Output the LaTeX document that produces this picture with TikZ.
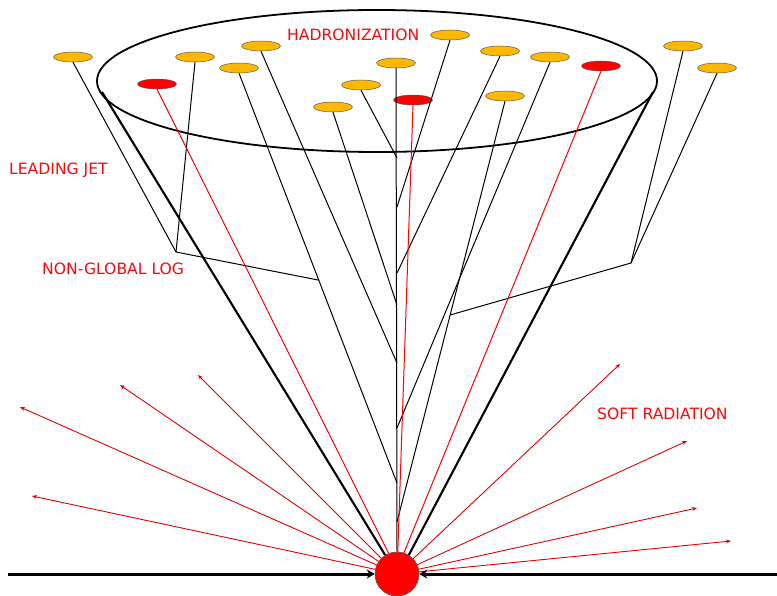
\documentclass[tikz,border=0pt]{standalone}
\usepackage{fontspec}
\setmainfont{DejaVu Sans}
\usetikzlibrary{shapes.geometric,arrows.meta,calc}
\definecolor{hadorange}{RGB}{255,184,0}
\definecolor{lblred}{RGB}{245,10,10}
\begin{document}
\begin{tikzpicture}[x=1pt,y=-1pt,
  hadron/.style={ellipse, draw=black!65, line width=0.5pt, fill=hadorange,
                 minimum width=39pt, minimum height=10pt, inner sep=0pt},
  rhadron/.style={hadron, fill=red},
  tline/.style={line width=1pt, black},
  jetline/.style={line width=2.1pt, black},
  redline/.style={line width=1pt, red},
  soft/.style={line width=0.9pt, red!90!black, -{Stealth[length=5pt,width=4pt]}},
  beam/.style={line width=3pt, black, -{Stealth[length=8pt,width=9pt]}},
  lbl/.style={text=lblred, font=\fontsize{15.6}{18}\selectfont, anchor=base west, inner sep=0pt}
]
\useasboundingbox (0,0) rectangle (777,596);

% cone (hadronization region)
\node[ellipse, draw, line width=1.8pt, minimum width=560pt, minimum height=142pt, inner sep=0pt] (cone) at (377,81) {};

% interaction blob
\node[circle, fill=red, draw=black!60, line width=0.5pt, minimum size=44pt, inner sep=0pt] (blob) at (397,574) {};

% hadrons
\node[hadron]  (h1)  at (73,57)  {};
\node[hadron]  (h2)  at (195,57) {};
\node[hadron]  (h3)  at (261,46) {};
\node[hadron]  (h4)  at (239,68) {};
\node[rhadron] (h5)  at (157,84) {};
\node[hadron]  (h6)  at (333,107) {};
\node[hadron]  (h7)  at (361,85) {};
\node[hadron]  (h8)  at (396,63) {};
\node[rhadron] (h9)  at (413,100) {};
\node[hadron]  (h10) at (450,35) {};
\node[hadron]  (h11) at (500,51) {};
\node[hadron]  (h12) at (550,57) {};
\node[hadron]  (h13) at (505,96) {};
\node[rhadron] (h14) at (601,66) {};
\node[hadron]  (h15) at (683,46) {};
\node[hadron]  (h16) at (717,68) {};

% vertices on the leading parton line
\coordinate (v1) at (397,158);
\coordinate (v2) at (397,207);
\coordinate (v3) at (397,273);
\coordinate (v4) at (397,305);
\coordinate (v5) at (397,363);
\coordinate (v6) at (397,428);
\coordinate (v7) at (397,483);
\coordinate (v8) at (397,522);
\coordinate (A) at (176,252);
\coordinate (D) at (631,263);
\coordinate (B) at ($(h4.south)!0.505!(v7)$);
\coordinate (C) at ($(h13.south)!0.508!(v8)$);
\coordinate (jl) at (102,92);
\coordinate (jr) at (653,92);

% shower lines
\draw[tline] (h8.south) -- (blob.north);
\draw[tline] (h7.south) -- (v1);
\draw[tline] (h10.south) -- (v2);
\draw[tline] (h11.south) -- (v3);
\draw[tline] (h6.south) -- (v4);
\draw[tline] (h3.south) -- (v5);
\draw[tline] (h12.south) -- (v6);
\draw[tline] (h4.south) -- (v7);
\draw[tline] (h13.south) -- (v8);
\draw[tline] (h1.south) -- (A) -- (B);
\draw[tline] (h2.south) -- (A);
\draw[tline] (h15.south) -- (D) -- (C);
\draw[tline] (h16.south) -- (D);

% red leading hadron lines
\draw[redline] (h5.south) -- (blob.112);
\draw[redline] (h9.south) -- (blob.88);
\draw[redline] (h14.south) -- (blob.72);

% jet boundaries
\draw[jetline] (jl) -- (blob.122);
\draw[jetline] (jr) -- (blob.58);

% soft radiation
\coordinate (s1) at (20,407);
\coordinate (s2) at (120,385);
\coordinate (s3) at (198,375);
\coordinate (s4) at (32,496);
\coordinate (s5) at (620,364);
\coordinate (s6) at (687,441);
\coordinate (s7) at (697,508);
\coordinate (s8) at (731,541);
\foreach \s in {s1,s2,s3,s4,s5,s6,s7,s8} \draw[soft] (blob) -- (\s);

% beams
\coordinate (bl) at (8,574);
\coordinate (br) at (777,574);
\draw[beam] (bl) -- (blob.west);
\draw[beam] (br) -- (blob.east);

% blob on top of the line ends
\node[circle, fill=red, draw=black!60, line width=0.5pt, minimum size=44pt, inner sep=0pt] at (blob) {};

% labels
\node[lbl] (lhad) at (287,41) {HADRONIZATION};
\node[lbl] (llead) at (9,175) {LEADING JET};
\node[lbl] (lngl) at (42,275) {NON-GLOBAL LOG};
\node[lbl] (lsoft) at (597,419) {SOFT RADIATION};
\end{tikzpicture}
\end{document}
